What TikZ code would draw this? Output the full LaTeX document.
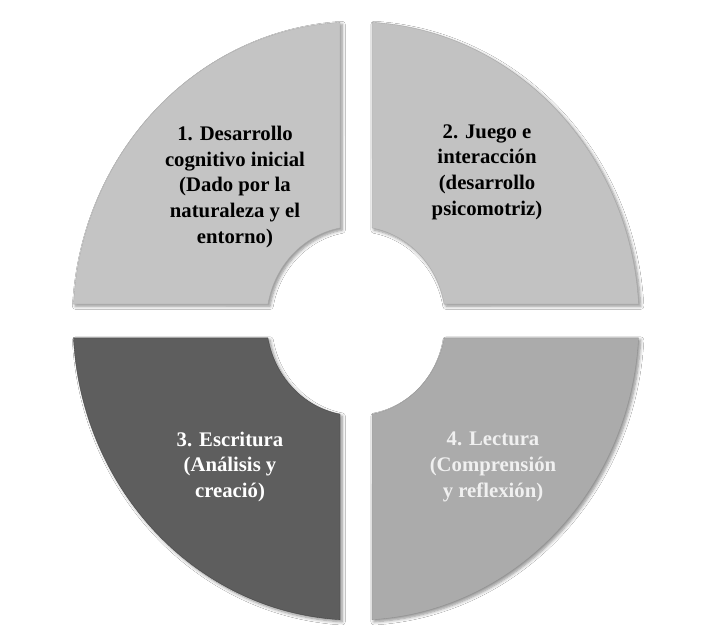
\documentclass[tikz,border=0pt]{standalone}
\usepackage{fontspec}
\setmainfont{Liberation Serif}
\usetikzlibrary{shadows.blur}

\definecolor{segone}{HTML}{C4C4C4}
\definecolor{segtwo}{HTML}{C2C2C2}
\definecolor{segthree}{HTML}{5E5E5E}
\definecolor{segfour}{HTML}{ABABAB}

\begin{document}
\begin{tikzpicture}[x=0.02cm, y=0.02cm,
    segment/.style={blur shadow={shadow xshift=1.2pt, shadow yshift=-1.2pt, shadow blur steps=6, shadow opacity=45}},
    label/.style={font=\bfseries\fontsize{11.8}{14.6}\selectfont, align=center}]
\useasboundingbox[fill=white] (-356,-316) rectangle (363,321);

\begin{scope}[yscale=1.057]
\draw[segment, fill=segone, draw=segone!85!black, very thin] (93.24:283) arc[start angle=93.24, end angle=176.76, radius=283] -- (169.70:89.5) arc[start angle=169.70, end angle=100.30, radius=89.5] -- cycle;
\draw[segment, fill=segtwo, draw=segtwo!85!black, very thin] (3.24:283) arc[start angle=3.24, end angle=86.76, radius=283] -- (79.70:89.5) arc[start angle=79.70, end angle=10.30, radius=89.5] -- cycle;
\draw[segment, fill=segthree, draw=segthree!70!black, very thin] (183.24:283) arc[start angle=183.24, end angle=266.76, radius=283] -- (259.70:89.5) arc[start angle=259.70, end angle=190.30, radius=89.5] -- cycle;
\draw[segment, fill=segfour, draw=segfour!85!black, very thin] (273.24:283) arc[start angle=273.24, end angle=356.76, radius=283] -- (349.70:89.5) arc[start angle=349.70, end angle=280.30, radius=89.5] -- cycle;
\end{scope}

\node[label, text=black] (desarrollo) at (-121,134) {1. Desarrollo\\cognitivo inicial\\(Dado por la\\naturaleza y el\\entorno)};
\node[label, text=black] (juego) at (131,149) {2. Juego e\\interacción\\(desarrollo\\psicomotriz)};
\node[label, text=white] (escritura) at (-126,-146) {3. Escritura\\(Análisis y\\creació)};
\node[label, text=white!94!black] (lectura) at (137,-146) {4. Lectura\\(Comprensión\\y reflexión)};

\end{tikzpicture}
\end{document}
